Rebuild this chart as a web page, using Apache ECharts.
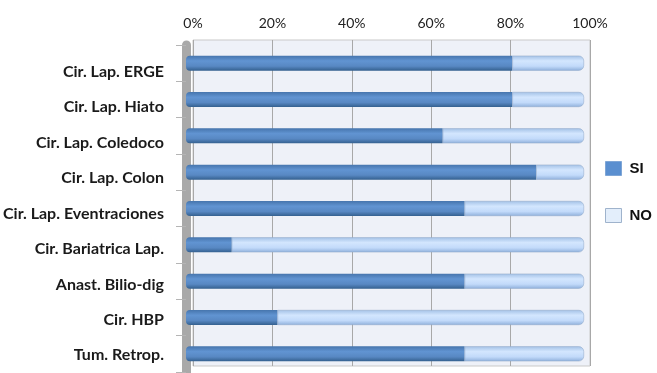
<!DOCTYPE html>
<html>
<head>
<meta charset="utf-8">
<script src="https://cdn.jsdelivr.net/npm/echarts@6/dist/echarts.min.js"></script>
<style>html,body{margin:0;padding:0;background:#fff;}#c{width:657px;height:373px;}</style>
</head>
<body>
<div id="c"></div>
<script>
var categories = ["Cir. Lap. ERGE", "Cir. Lap. Hiato", "Cir. Lap. Coledoco", "Cir. Lap. Colon", "Cir. Lap. Eventraciones", "Cir. Bariatrica Lap.", "Anast. Bilio-dig", "Cir. HBP", "Tum. Retrop."];
var siValues = [82, 82, 64.5, 88, 70, 11.5, 70, 23, 70];
var noValues = [18, 18, 35.5, 12, 30, 88.5, 30, 77, 30];
var tickValues = [0, 20, 40, 60, 80, 100];

var chart = echarts.init(document.getElementById('c'), null, {renderer: 'canvas'});
function grad(a, b, c, d) {
  return new echarts.graphic.LinearGradient(0, 0, 0, 1, [
    {offset: 0, color: a}, {offset: 0.35, color: b}, {offset: 0.7, color: c}, {offset: 1, color: d}
  ]);
}
var legendText = {fontFamily: 'Liberation Sans', fontWeight: 'bold', fontSize: 15, color: '#111', padding: [0, 0, 0, 3], overflow: 'none'};
chart.setOption({
  animation: false,
  backgroundColor: '#ffffff',
  grid: [
    {left: 193, right: 67, top: 40, bottom: 7, show: true, backgroundColor: '#eef1f8', borderColor: '#c9c9c9', borderWidth: 1},
    {left: 186, right: 73, top: 45, height: 327},
    {left: 186, right: 73, top: 54, height: 322}
  ],
  legend: {
    orient: 'vertical', left: 605, top: 161, padding: 0, itemWidth: 16, itemHeight: 14, itemGap: 32,
    icon: 'rect',
    textStyle: legendText,
    data: [
      {name: 'SI', textStyle: legendText, itemStyle: {color: '#5a8fd0', borderColor: '#7fa6d6', borderWidth: 1}},
      {name: 'NO', textStyle: legendText, itemStyle: {color: '#e3eefb', borderColor: '#9fb3cc', borderWidth: 1}}
    ]
  },
  xAxis: [
    {gridIndex: 0, type: 'value', position: 'top', min: 0, max: 100, interval: 20,
     axisLine: {show: false}, axisTick: {show: false},
     axisLabel: {formatter: function (v) { return tickValues.indexOf(v) >= 0 ? v + '%' : ''; }, fontFamily: 'Lato', fontSize: 14, color: '#222', margin: 10},
     splitLine: {show: true, lineStyle: {color: '#a8a8a8', width: 1}}},
    {gridIndex: 1, type: 'value', min: 0, max: 100, show: false},
    {gridIndex: 2, type: 'value', min: 0, max: 100, show: false}
  ],
  yAxis: [
    {gridIndex: 0, type: 'value', show: false},
    {gridIndex: 1, type: 'category', inverse: true, data: categories,
     axisLine: {show: true, lineStyle: {color: '#a9a9a9', width: 9}},
     axisTick: {show: true, length: 10, lineStyle: {color: '#b5b5b5', width: 1}},
     axisLabel: {show: false}},
    {gridIndex: 2, type: 'category', inverse: true, data: categories,
     axisLine: {show: false}, axisTick: {show: false}, splitLine: {show: false},
     axisLabel: {fontFamily: 'Lato', fontWeight: 'bold', fontSize: 16, color: '#1a1a1a', margin: 23}}
  ],
  series: [
    {name: 'SI', type: 'bar', stack: 'all', xAxisIndex: 1, yAxisIndex: 1, barWidth: 15, data: siValues,
     itemStyle: {color: grad('#4675ad', '#6194d2', '#5888c3', '#34608f'), borderRadius: [4, 0, 0, 4]}},
    {name: 'NO', type: 'bar', stack: 'all', xAxisIndex: 1, yAxisIndex: 1, barWidth: 15, data: noValues,
     itemStyle: {color: grad('#a3c1e6', '#d3e6fe', '#c2dafa', '#8fb0db'), borderRadius: [0, 5, 5, 0], borderColor: '#8ea6c6', borderWidth: 0.5}}
  ]
});
</script>
</body>
</html>
